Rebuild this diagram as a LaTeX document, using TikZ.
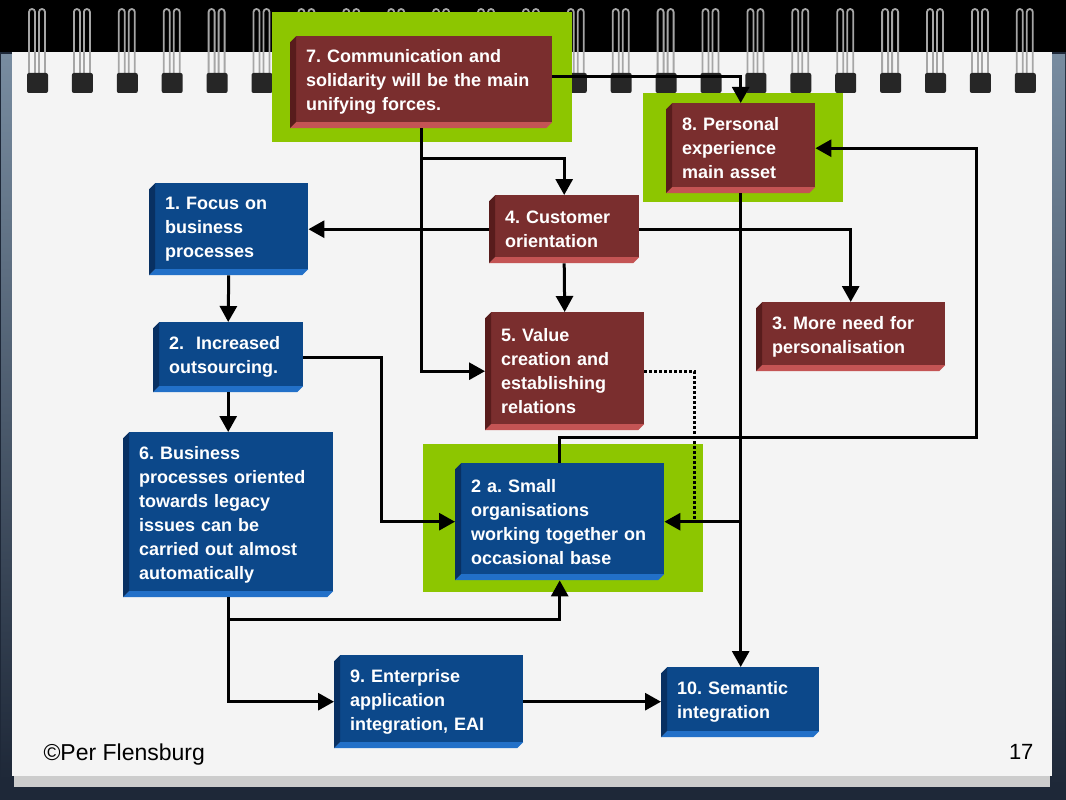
\documentclass[tikz,border=0pt]{standalone}
\usepackage{fontspec}
\setmainfont{Liberation Sans}
\usetikzlibrary{calc,arrows.meta}
\frenchspacing

\definecolor{navy}{RGB}{30,40,56}
\definecolor{steel}{RGB}{120,140,160}
\definecolor{paper}{RGB}{244,244,244}
\definecolor{leaf}{RGB}{141,198,0}
\definecolor{bluefront}{RGB}{12,72,138}
\definecolor{blueside}{RGB}{8,48,98}
\definecolor{bluebase}{RGB}{34,112,200}
\definecolor{redfront}{RGB}{122,46,46}
\definecolor{redside}{RGB}{88,28,28}
\definecolor{redbase}{RGB}{196,84,84}

\tikzset{
  block/.style={rectangle, anchor=north west, inner xsep=16pt, inner ysep=0pt,
    align=left, text=white, font=\fontsize{18}{24}\selectfont\bfseries,
    path picture={
      \coordinate (nw) at (path picture bounding box.north west);
      \coordinate (sw) at (path picture bounding box.south west);
      \coordinate (se) at (path picture bounding box.south east);
      \fill[#1front] ($(nw)+(6,0)$) rectangle ($(se)+(0,-6)$);
      \fill[#1side] ($(nw)+(6,0)$) -- ($(nw)+(0,6)$) -- (sw) -- ($(sw)+(6,-6)$) -- cycle;
      \fill[#1base] (sw) -- ($(sw)+(6,-6)$) -- ($(se)+(0,-6)$) -- ($(se)+(-6,0)$) -- cycle;
    }},
  bluebox/.style={block=blue},
  redbox/.style={block=red},
  arrow/.style={line width=3pt, -{Triangle[length=16pt,width=17pt]}},
}

\begin{document}
\begin{tikzpicture}[x=1pt,y=-1pt]
  % notebook
  \fill[navy] (0,0) rectangle (1066,800);
  \fill[black] (0,0) rectangle (1066,52);
  \shade[top color=steel, bottom color=navy] (1,55) rectangle (12,780);
  \shade[top color=steel, bottom color=navy] (1052,55) rectangle (1065,785);
  \fill[gray!40] (14,776) rectangle (1050,787);
  \fill[paper] (12,52) rectangle (1052,776);
  \foreach \i in {0,...,22}{
    \pgfmathsetmacro\rx{38+44.9*\i}
    \draw[gray!70, line width=1.8pt, rounded corners=3pt] (\rx-9,82) -- (\rx-9,9) -- (\rx-3,9) -- (\rx-3,82);
    \draw[gray!70, line width=1.8pt, rounded corners=3pt] (\rx+1,82) -- (\rx+1,9) -- (\rx+7,9) -- (\rx+7,82);
    \fill[black!85, rounded corners=2pt] (\rx-11,73) rectangle (\rx+10,93);
  }

  % highlights
  \fill[leaf] (272,12) rectangle (572,142);
  \fill[leaf] (643,93) rectangle (843,202);
  \fill[leaf] (423,444) rectangle (703,592);

  \node[redbox, text width=230pt, minimum height=92pt] (b7) at (290,36) {7. Communication and\\solidarity will be the main\\unifying forces.};
  \node[redbox, text width=117pt, minimum height=90pt] (b8) at (666,103) {8. Personal\\experience\\main asset};
  \node[bluebox, text width=127pt, minimum height=92pt] (b1) at (149,183) {1. Focus on\\business\\processes};
  \node[redbox, text width=118pt, minimum height=68pt] (b4) at (489,195) {4. Customer\\orientation};
  \node[redbox, text width=157pt, minimum height=69pt] (b3) at (756,302) {3. More need for\\personalisation};
  \node[bluebox, text width=118pt, minimum height=70pt] (b2) at (153,322) {2.\ \ Increased\\outsourcing.};
  \node[redbox, text width=127pt, minimum height=118pt] (b5) at (485,312) {5. Value\\creation and\\establishing\\relations};
  \node[bluebox, text width=177pt, minimum height=117pt] (b2a) at (455,463) {2 a. Small\\organisations\\working together on\\occasional base};
  \node[bluebox, text width=178pt, minimum height=165pt] (b6) at (123,432) {6. Business\\processes oriented\\towards legacy\\issues can be\\carried out almost\\automatically};
  \node[bluebox, text width=157pt, minimum height=93pt] (b9) at (334,655) {9. Enterprise\\application\\integration, EAI};
  \node[bluebox, text width=126pt, minimum height=70pt] (b10) at (661,667) {10. Semantic\\integration};

  \node[anchor=west, font=\fontsize{23}{26}\selectfont] (copy) at (40,755) {©Per Flensburg};
  \node[anchor=east, font=\fontsize{22}{26}\selectfont] (page) at (1037,752) {17};

  \coordinate (j7) at ($(b7.south)+(0,30)$);
  \coordinate (k2) at ($(b2a.west)+(-74,0)$);
  \coordinate (k5) at ($(b2a.east)+(30,0)$);
  \coordinate (k8) at ($(b2a.north)+(417,-26)$);
  \coordinate (k6) at ($(b6.south)+(0,22)$);

  \foreach \from/\to in {b1/b2,b2/b6,b4/b5}
    \draw[arrow] (\from.south) -- (\to.north);

  \draw[arrow] ([yshift=6pt]b7.east) -| (b8.north);
  \draw[arrow] (b7.south) |- (b5.west);
  \draw[arrow] (j7) -| (b4.north);
  \draw[arrow] (b4.west) -- (b4.west -| b1.east);
  \draw[arrow] (b4.east) -| (b3.north);
  \draw[arrow] (b2.east) -| (k2) -- (b2a.west);
  \draw[line width=3pt, dash pattern=on 3pt off 2pt] (b5.east) -| (k5);
  \draw[arrow] (b8.south) -- (b8.south |- b10.north);
  \draw[arrow] (b8.south |- b2a.east) -- (b2a.east);
  \draw[arrow] (b2a.north) |- (k8) |- (b8.east);
  \draw[arrow] (b6.south) -- (k6) -| (b2a.south);
  \draw[arrow] (k6) |- (b9.west);
  \draw[arrow] (b9.east) -- (b9.east -| b10.west);
\end{tikzpicture}
\end{document}
